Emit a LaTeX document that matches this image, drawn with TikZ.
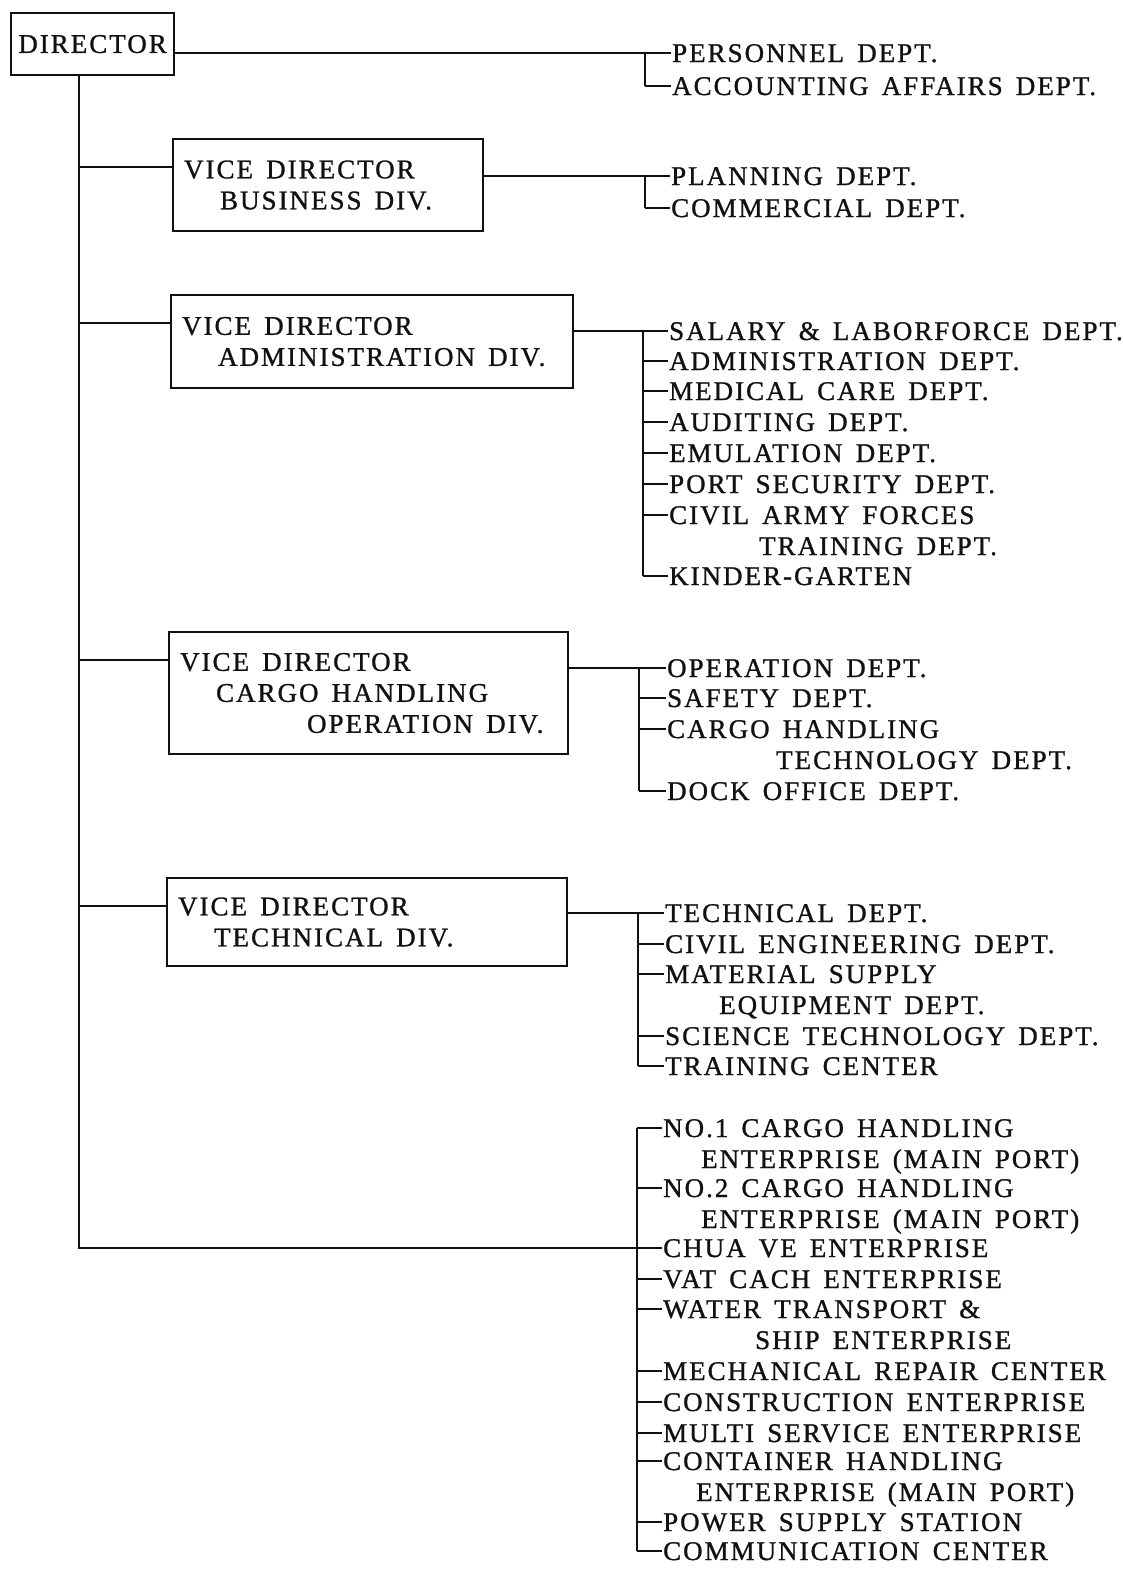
\documentclass[tikz,border=0pt]{standalone}
\usepackage{fontspec}
\setmainfont{Liberation Serif}[LetterSpace=7.4,WordSpace=1.5,FakeBold=1]
\usetikzlibrary{positioning}
\definecolor{ink}{HTML}{111111}
\newcommand{\twoline}[2]{\begin{tabular}[t]{@{}l@{}}#1\\#2\end{tabular}}

\begin{document}
\begin{tikzpicture}[x=1pt,y=-1pt,font=\fontsize{27}{31}\selectfont,
    line width=2.3pt,draw=ink,
    divbox/.style={draw=ink,line width=2.2pt,anchor=north west,inner xsep=11pt,
      inner ysep=0pt,align=left,text=ink},
    dept/.style={anchor=base west,inner sep=0pt,text=ink}]
  \fill[white] (0,0) rectangle (1123,1572);
  \useasboundingbox (0,0) rectangle (1123,1572);

  \node[draw=ink,line width=2.2pt,anchor=north west,minimum width=163pt,
    minimum height=62pt,inner sep=0pt,text=ink] (dir) at (10,12) {DIRECTOR};
  \node[divbox,minimum width=310pt,minimum height=92pt,text width=288pt] (vdb) at (172,138)
    {\spaceskip=0pt VICE DIRECTOR\\\hspace*{36pt}BUSINESS DIV.};
  \node[divbox,minimum width=402pt,minimum height=93pt,text width=380pt] (vda) at (170,294)
    {\spaceskip=0pt VICE DIRECTOR\\\hspace*{36pt}ADMINISTRATION DIV.};
  \node[divbox,minimum width=399pt,minimum height=122pt,text width=377pt] (vdc) at (168,631)
    {\spaceskip=0pt VICE DIRECTOR\\\hspace*{36pt}CARGO HANDLING\\\hspace*{127pt}OPERATION DIV.};
  \node[divbox,minimum width=400pt,minimum height=88pt,text width=378pt] (vdt) at (166,877)
    {\spaceskip=0pt VICE DIRECTOR\\\hspace*{36pt}TECHNICAL DIV.};

  % departments, \y is the height of the tick (middle of the capitals)
  \foreach \n/\y/\t in {1/53/PERSONNEL DEPT., 2/86/ACCOUNTING AFFAIRS DEPT.}{
    \node[dept] (p\n) at (671,\y+9) {\t};
    \coordinate (p\n-t) at ([yshift=9pt]p\n.base west);}
  \foreach \n/\y/\t in {1/176/PLANNING DEPT., 2/208/COMMERCIAL DEPT.}{
    \node[dept] (b\n) at (670,\y+9) {\t};
    \coordinate (b\n-t) at ([yshift=9pt]b\n.base west);}
  \foreach \n/\y/\t in {1/331/SALARY \& LABORFORCE DEPT., 2/361/ADMINISTRATION DEPT.,
      3/391/MEDICAL CARE DEPT., 4/422/AUDITING DEPT., 5/453/EMULATION DEPT.,
      6/484/PORT SECURITY DEPT.,
      7/515/{\twoline{CIVIL ARMY FORCES}{\hspace*{90pt}TRAINING DEPT.}},
      8/576/KINDER-GARTEN}{
    \node[dept] (a\n) at (668,\y+9) {\t};
    \coordinate (a\n-t) at ([yshift=9pt]a\n.base west);}
  \foreach \n/\y/\t in {1/668/OPERATION DEPT., 2/698/SAFETY DEPT.,
      3/729/{\twoline{CARGO HANDLING}{\hspace*{109pt}TECHNOLOGY DEPT.}},
      4/791/DOCK OFFICE DEPT.}{
    \node[dept] (c\n) at (666,\y+9) {\t};
    \coordinate (c\n-t) at ([yshift=9pt]c\n.base west);}
  \foreach \n/\y/\t in {1/913/TECHNICAL DEPT., 2/944/CIVIL ENGINEERING DEPT.,
      3/974/{\twoline{MATERIAL SUPPLY}{\hspace*{54pt}EQUIPMENT DEPT.}},
      4/1036/SCIENCE TECHNOLOGY DEPT., 5/1066/TRAINING CENTER}{
    \node[dept] (t\n) at (664,\y+9) {\t};
    \coordinate (t\n-t) at ([yshift=9pt]t\n.base west);}
  \foreach \n/\y/\t in {
      1/1128/{\twoline{NO.1 CARGO HANDLING}{\hspace*{38pt}ENTERPRISE (MAIN PORT)}},
      2/1188/{\twoline{NO.2 CARGO HANDLING}{\hspace*{38pt}ENTERPRISE (MAIN PORT)}},
      3/1248/CHUA VE ENTERPRISE, 4/1279/VAT CACH ENTERPRISE,
      5/1309/{\twoline{WATER TRANSPORT \&}{\hspace*{92pt}SHIP ENTERPRISE}},
      6/1371/MECHANICAL REPAIR CENTER, 7/1402/CONSTRUCTION ENTERPRISE,
      8/1433/MULTI SERVICE ENTERPRISE,
      9/1461/{\twoline{CONTAINER HANDLING}{\hspace*{33pt}ENTERPRISE (MAIN PORT)}},
      10/1522/POWER SUPPLY STATION, 11/1551/COMMUNICATION CENTER}{
    \node[dept] (e\n) at (662,\y+9) {\t};
    \coordinate (e\n-t) at ([yshift=9pt]e\n.base west);}

  % trunk and branches to the vice directors
  \coordinate (trunk) at (79,0);
  \coordinate (ebar) at (637,0);
  \draw (dir.south -| trunk) -- (trunk |- e3-t) -- (ebar |- e3-t);
  \foreach \b in {vdb,vda,vdc,vdt}{
    \coordinate (\b-in) at ([yshift=-29pt]\b.north west);
    \draw (trunk |- \b-in) -- (\b-in);}

  % brackets
  \foreach \g/\from/\x/\last in {p/dir/645/2, b/vdb/645/2, a/vda/643/8,
      c/vdc/639/4, t/vdt/638/5}{
    \coordinate (\g bar) at (\x,0);
    \draw (\from.east |- \g1-t) -- (\g bar |- \g1-t) -- (\g bar |- \g\last-t);
    \foreach \n in {1,...,\last}
      \draw (\g bar |- \g\n-t) -- (\g\n-t);}
  \draw (ebar |- e1-t) -- (ebar |- e11-t);
  \foreach \n in {1,...,11}
    \draw (ebar |- e\n-t) -- (e\n-t);
\end{tikzpicture}
\end{document}
